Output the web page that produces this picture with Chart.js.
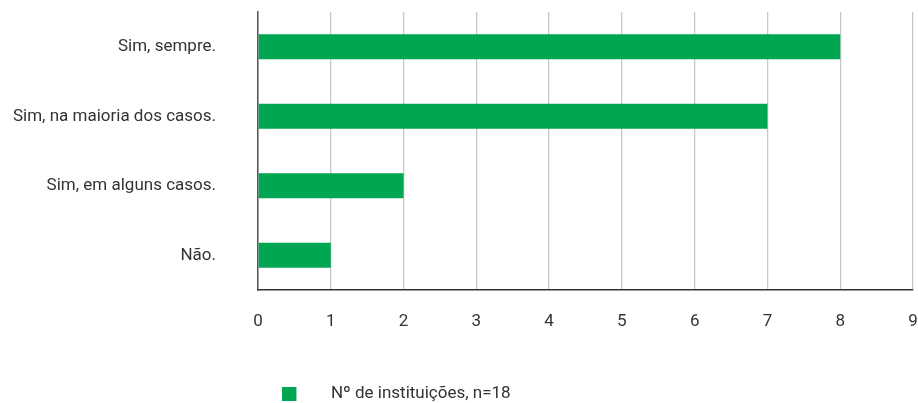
<!DOCTYPE html>
<html>
<head>
<meta charset="utf-8">
<script src="https://cdn.jsdelivr.net/npm/chart.js@4"></script>
<style>
  html, body { margin: 0; padding: 0; background: #fff; }
  #wrap { width: 918px; height: 403px; }
</style>
</head>
<body>
<div id="wrap"><canvas id="chart" width="918" height="403"></canvas></div>
<script>
const categories = ["Sim, sempre.", "Sim, na maioria dos casos.", "Sim, em alguns casos.", "Não."];
const values = [8, 7, 2, 1];
const seriesName = "Nº de instituições, n=18";
const xTicks = [0, 1, 2, 3, 4, 5, 6, 7, 8, 9];

const font = "Roboto, sans-serif";
const green = "#00a651";

// legend glyph: green square on the left of a wider transparent box
const swatch = document.createElement("canvas");
swatch.width = 40;
swatch.height = 14;
const sctx = swatch.getContext("2d");
sctx.fillStyle = green;
sctx.fillRect(0, 0, 14, 14);

// shift legend left like in the original
const legendShift = {
  id: "legendShift",
  afterLayout(chart) {
    chart.legend.right = chart.legend.left + 793;
  },
};

const ctx = document.getElementById("chart").getContext("2d");
new Chart(ctx, {
  type: "bar",
  data: {
    labels: categories,
    datasets: [
      {
        label: seriesName,
        data: values,
        backgroundColor: green,
        borderWidth: 0,
        barPercentage: 0.36,
        categoryPercentage: 1,
      },
    ],
  },
  options: {
    indexAxis: "y",
    responsive: false,
    animation: false,
    layout: { padding: { top: 12, right: 5, left: 0, bottom: -9 } },
    scales: {
      x: {
        min: 0,
        max: 9,
        afterBuildTicks: (s) => { s.ticks = xTicks.map((v) => ({ value: v })); },
        grid: { color: "#c8c8c8", lineWidth: 1.3, drawTicks: false },
        border: { color: "#333", width: 1.5 },
        ticks: { color: "#333", padding: 22, font: { family: font, size: 17 } },
        afterFit: (s) => {
          s.height = 94;
          s.paddingLeft = 0;
          s.paddingRight = 0;
        },
      },
      y: {
        grid: { display: false, drawTicks: false },
        border: { color: "#555", width: 1.5 },
        ticks: { color: "#333", padding: 42, font: { family: font, size: 17 } },
        afterFit: (s) => {
          s.width = 258;
          s.paddingTop = 0;
          s.paddingBottom = 0;
        },
      },
    },
    plugins: {
      legend: {
        position: "bottom",
        labels: {
          color: "#333",
          usePointStyle: true,
          pointStyle: swatch,
          pointStyleWidth: 40,
          boxHeight: 14,
          padding: 1,
          font: { family: font, size: 17 },
        },
      },
      tooltip: { enabled: false },
    },
  },
  plugins: [legendShift],
});
</script>
</body>
</html>
